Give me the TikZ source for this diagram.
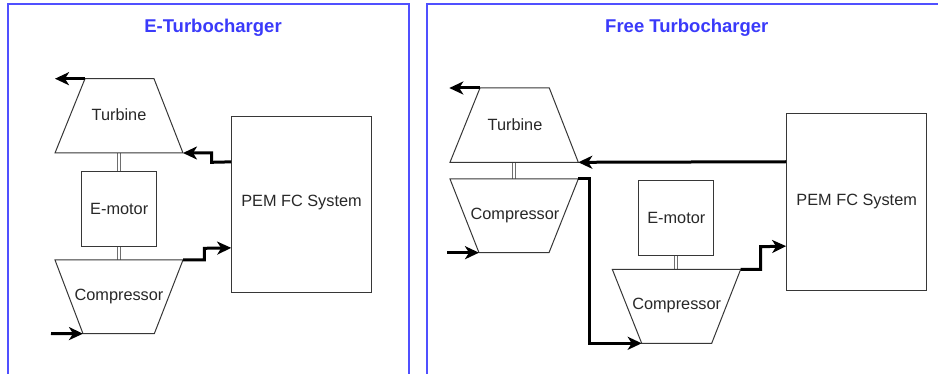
\documentclass[tikz,border=0pt]{standalone}
\usepackage{fontspec}
\setmainfont{Liberation Sans}
\usetikzlibrary{arrows.meta}
\definecolor{frameblue}{RGB}{80,80,255}
\definecolor{titleblue}{RGB}{58,58,250}
\definecolor{ink}{RGB}{40,40,40}
\definecolor{edge}{RGB}{55,55,55}
\definecolor{shaftgray}{RGB}{110,110,110}
\begin{document}
\begin{tikzpicture}[x=1pt,y=-1pt,
  panel/.style={draw=frameblue,line width=2pt},
  heading/.style={text=titleblue,font=\fontsize{18.5}{20}\selectfont\bfseries,inner sep=0pt},
  label/.style={text=ink,font=\fontsize{16.3}{18}\selectfont,inner sep=0pt},
  part/.style={draw=edge,line width=1pt,line join=miter},
  boxpart/.style={part,rectangle,fill=white,inner sep=0pt,text=ink,font=\fontsize{16.3}{18}\selectfont},
  shaft/.style={draw=shaftgray,line width=0.9pt,double=white,double distance=2.2pt},
  flow/.style={draw=black,line width=3pt,line join=miter,-{Stealth[length=14pt 0,width=13pt 0,inset=4pt 0]}}
]
\useasboundingbox (0,0) rectangle (938,374);
\clip (0,0) rectangle (938,374);

% ---------- panel frames and headings ----------
\draw[panel] (8.3,404) -- (8.3,4) -- (409,4) -- (409,404);
\draw[panel] (426.7,404) -- (426.7,4) -- (960,4);
\node[heading] (hL) at (213,28) {E-Turbocharger};
\node[heading] (hR) at (686.8,28) {Free Turbocharger};

% ================= E-Turbocharger =================
% turbine
\coordinate (T1tl) at (85,78.7);  \coordinate (T1tr) at (154,78.7);
\coordinate (T1br) at (183,153);  \coordinate (T1bl) at (55,153);
% compressor
\coordinate (C1tl) at (55,260);   \coordinate (C1tr) at (183,260);
\coordinate (C1br) at (154.3,333.7); \coordinate (C1bl) at (83,333.7);

\draw[shaft] (119,153) -- (119,260);
\draw[part,fill=white] (T1tl) -- (T1tr) -- (T1br) -- (T1bl) -- cycle;
\draw[part,fill=white] (C1tl) -- (C1tr) -- (C1br) -- (C1bl) -- cycle;
\node[label] (T1) at (119,115) {Turbine};
\node[label] (C1) at (119,297) {Compressor};
\node[boxpart,minimum width=75pt,minimum height=74.6pt] (M1) at (119.2,209) {E-motor};
\node[boxpart,minimum width=140pt,minimum height=176.7pt] (P1) at (301.7,204.4) {};
\node[label] (P1t) at (301.5,203) {PEM FC System};

\coordinate (T1out) at (55,78.7);
\coordinate (C1in) at (51,333.5);
\coordinate (P1a) at ([yshift=-46.3pt]P1.north west);
\coordinate (P1b) at ([yshift=-132.3pt]P1.north west);

\draw[flow] (T1tl) -- (T1out);
\draw[flow] (P1a) -- (211.7,162.3) -- (211.7,153) -- (T1br);
\draw[flow] (C1tr) -- (204.3,260) -- (204.3,248.3) -- (P1b);
\draw[flow] (C1in) -- (C1bl);

% ================= Free Turbocharger =================
\coordinate (T2tl) at (480,88);    \coordinate (T2tr) at (549.3,88);
\coordinate (T2br) at (578.3,162.3); \coordinate (T2bl) at (450,162.3);
\coordinate (C2tl) at (450,179);   \coordinate (C2tr) at (578.3,179);
\coordinate (C2br) at (549,252.7); \coordinate (C2bl) at (479,252.7);
\coordinate (C3tl) at (612.3,269.3); \coordinate (C3tr) at (740.7,269.3);
\coordinate (C3br) at (711.7,343.3); \coordinate (C3bl) at (641.7,343.3);

\draw[shaft] (514.3,162.3) -- (514.3,179);
\draw[shaft] (676,255.7) -- (676,269.3);
\draw[part,fill=white] (T2tl) -- (T2tr) -- (T2br) -- (T2bl) -- cycle;
\draw[part,fill=white] (C2tl) -- (C2tr) -- (C2br) -- (C2bl) -- cycle;
\draw[part,fill=white] (C3tl) -- (C3tr) -- (C3br) -- (C3bl) -- cycle;
\node[label] (T2) at (515,125) {Turbine};
\node[label] (C2) at (515,216) {Compressor};
\node[label] (C3) at (676.7,306) {Compressor};
\node[boxpart,minimum width=75.3pt,minimum height=74.7pt] (M2) at (676.3,218.3) {E-motor};
\node[boxpart,minimum width=140.3pt,minimum height=176.7pt] (P2) at (856.8,202.3) {};
\node[label] (P2t) at (856.7,201.7) {PEM FC System};

\coordinate (T2out) at (449.3,88);
\coordinate (C2in) at (447.3,252.7);
\coordinate (P2a) at ([yshift=-48.3pt]P2.north west);
\coordinate (P2b) at ([yshift=-132.7pt]P2.north west);

\draw[flow] (T2tl) -- (T2out);
\draw[flow] (P2a) -- (T2br);
\draw[flow] (C2tr) -- (589.3,179) -- (589.3,343.3) -- (C3bl);
\draw[flow] (C3tr) -- (760.7,269.3) -- (760.7,246.7) -- (P2b);
\draw[flow] (C2in) -- (C2bl);
\end{tikzpicture}
\end{document}
